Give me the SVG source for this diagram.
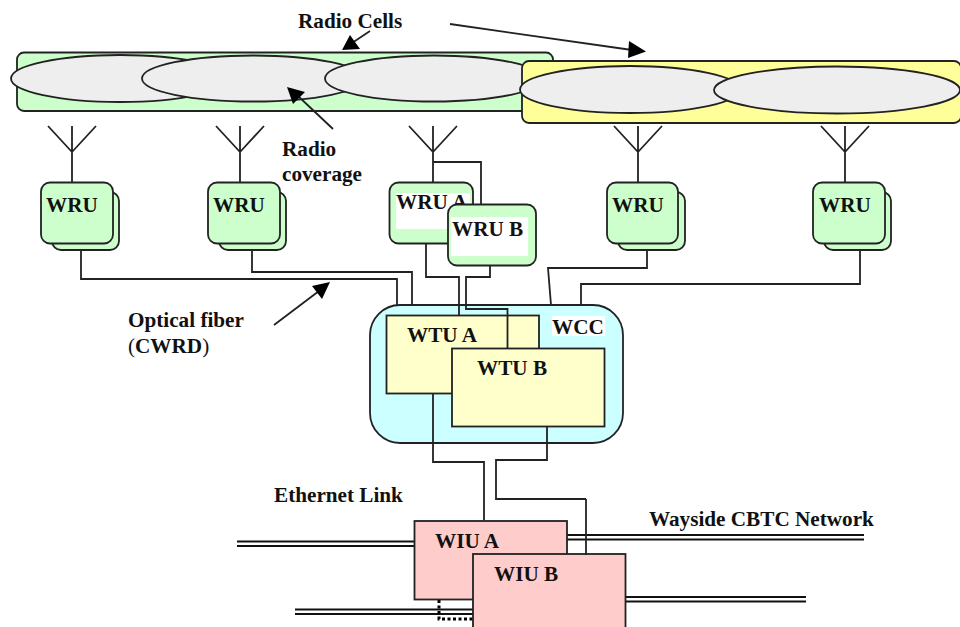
<svg xmlns="http://www.w3.org/2000/svg" width="960" height="627" viewBox="0 0 960 627">
<style>
text{font-family:"Liberation Serif","Times New Roman",serif;font-weight:700;font-size:21.2px;fill:#111}
.l{fill:none;stroke:#222;stroke-width:1.8}
.d{fill:none;stroke:#111;stroke-width:2}
.dot{fill:none;stroke:#000;stroke-width:3;stroke-dasharray:3 2.5}
.cell{fill:#eee;stroke:#222;stroke-width:1.8}
.wru{fill:#ccffcc;stroke:#222;stroke-width:1.8}
.wtu{fill:#ffffcc;stroke:#222;stroke-width:1.8}
.wiu{fill:#ffcccc;stroke:#222;stroke-width:1.8}
.head{fill:#000;stroke:none}
</style>
<rect width="960" height="627" fill="#fff"/>
<g id="cells-green">
<rect x="17" y="52.5" width="536" height="58.5" rx="7" fill="#ccffcc" stroke="#222" stroke-width="1.8"/>
<ellipse class="cell" cx="120" cy="78.5" rx="109" ry="23.5"/>
<ellipse class="cell" cx="253" cy="78.5" rx="111" ry="23"/>
<ellipse class="cell" cx="434" cy="78.5" rx="109" ry="23"/>
</g>
<g id="cells-yellow">
<rect x="522" y="61" width="439" height="62" rx="7" fill="#ffff99" stroke="#222" stroke-width="1.8"/>
<ellipse class="cell" cx="630" cy="89.5" rx="110" ry="23.5"/>
<ellipse class="cell" cx="837" cy="90" rx="123" ry="23.5"/>
</g>
<g id="antennas" class="l">
<path d="M48 126L72 152L96 126M72 126V182"/>
<path d="M216 126L240 152L264 126M240 126V182"/>
<path d="M409 126L433 152L457 126M433 126V182"/>
<path d="M614 126L638 152L662 126M638 126V182"/>
<path d="M821 126L845 152L869 126M845 126V182"/>
</g>
<g id="wcc">
<rect x="370" y="305" width="253" height="138" rx="30" fill="#ccffff" stroke="#222" stroke-width="1.8"/>
<rect x="552" y="316" width="53" height="20" fill="#fff"/>
<text x="552" y="334">WCC</text>
</g>
<g id="wtu-a">
<rect class="wtu" x="386.5" y="315.5" width="152.5" height="78"/>
<text x="407" y="342">WTU A</text>
</g>
<g id="connectors" class="l">
<path d="M433 162H481V205"/>
<path d="M81 250V279H397V305"/>
<path d="M252 250V272H412V305"/>
<path d="M426 243V277H459V315.5"/>
<path d="M490 266V277H466V309H507.5V348"/>
<path d="M647 250V268H548L551 305"/>
<path d="M860 250V284H581V305"/>
</g>
<g id="arrows">
<path class="l" d="M370 31L352 43M450 24L632 50M333 129L298 96M274 325L319 291"/>
<polygon class="head" points="342,50 360,49 350,35"/>
<polygon class="head" points="646,51.5 629,41 628,58"/>
<polygon class="head" points="287,87 305,92 293,104"/>
<polygon class="head" points="330,282 312,286 322,299"/>
</g>
<g id="wru-1">
<rect class="wru" x="52" y="192" width="67" height="58" rx="9"/>
<rect class="wru" x="41" y="182.5" width="72" height="61" rx="9"/>
<text x="46" y="212">WRU</text>
</g>
<g id="wru-2">
<rect class="wru" x="219" y="192" width="67" height="58" rx="9"/>
<rect class="wru" x="208" y="182.5" width="72" height="61" rx="9"/>
<text x="213" y="212">WRU</text>
</g>
<g id="wru-a">
<rect class="wru" x="389.5" y="182.5" width="83.5" height="61" rx="9"/>
<rect x="396" y="193" width="74" height="36" fill="#fff"/>
<text x="396" y="209">WRU A</text>
</g>
<g id="wru-b">
<rect class="wru" x="448" y="204.5" width="88" height="61" rx="9" fill="#ccffcc"/>
<path d="M448 243H473V204.5" fill="none"/>
<rect x="451" y="217" width="77" height="39" fill="#fff"/>
<text x="452" y="236">WRU B</text>
</g>
<g id="wru-4">
<rect class="wru" x="618" y="192" width="67" height="58" rx="9"/>
<rect class="wru" x="607" y="182.5" width="71" height="61" rx="9"/>
<text x="612" y="212">WRU</text>
</g>
<g id="wru-5">
<rect class="wru" x="824" y="192" width="67" height="58" rx="9"/>
<rect class="wru" x="813" y="182.5" width="72" height="61" rx="9"/>
<text x="819" y="212">WRU</text>
</g>
<g id="wtu-b">
<rect class="wtu" x="452" y="348.5" width="152.5" height="78"/>
<text x="477" y="375">WTU B</text>
</g>
<g id="ethernet">
<path class="l" d="M433 394V462H484V520"/>
<path class="l" d="M547 427V460H496V499H586"/>
<path class="d" d="M237 541.5H415M237 546H415"/>
<path class="d" d="M567 535H864M567 539.5H864"/>
<path class="d" d="M295 609.5H473M295 614H473"/>
<path class="d" d="M626 597H806M626 601.5H806"/>
<path class="dot" d="M439 600V619H473"/>
</g>
<g id="wiu-a">
<rect class="wiu" x="414.5" y="521" width="152.5" height="78.5"/>
<text x="435" y="548">WIU A</text>
</g>
<g id="wiu-b">
<rect class="wiu" x="473" y="554" width="152.5" height="78"/>
<text x="494" y="581">WIU B</text>
</g>
<path class="l" d="M586 499V555"/>
<g id="labels">
<text x="298" y="28">Radio Cells</text>
<text x="282" y="156">Radio</text>
<text x="282" y="181">coverage</text>
<text x="128" y="327">Optical fiber</text>
<text x="128" y="353"><tspan font-weight="400">(</tspan>CWRD<tspan font-weight="400">)</tspan></text>
<text x="274" y="502">Ethernet Link</text>
<text x="649" y="526">Wayside CBTC Network</text>
</g>
</svg>
